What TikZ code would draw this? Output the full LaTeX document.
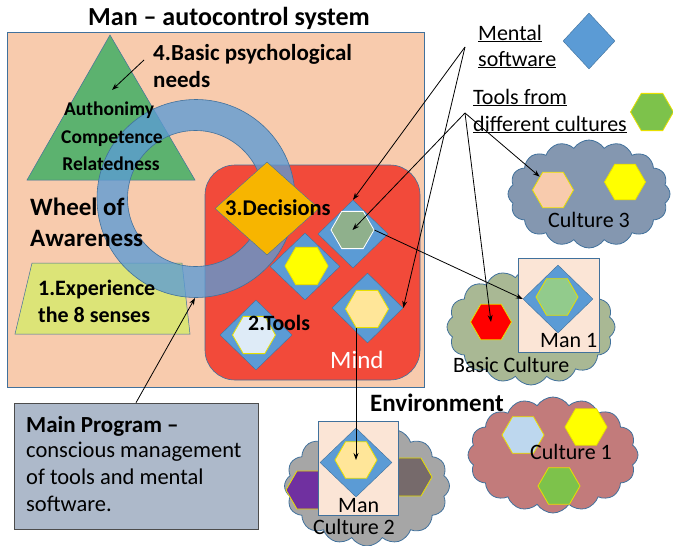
\documentclass[tikz,border=0pt]{standalone}
\usepackage{fontspec}
\setmainfont{Carlito}
\usetikzlibrary{shapes.geometric,shapes.symbols,arrows.meta}
\definecolor{peach}{HTML}{F8CBAD}
\definecolor{edgeblue}{HTML}{41719C}
\definecolor{trigreen}{HTML}{5CB26F}
\definecolor{ringblue}{HTML}{5B9BD5}
\definecolor{mindred}{HTML}{F24A3A}
\definecolor{decorange}{HTML}{F7B500}
\definecolor{swblue}{HTML}{5B9BD5}
\definecolor{hexgg}{HTML}{8FB08C}
\definecolor{hexyel}{HTML}{FFFF00}
\definecolor{hexlyel}{HTML}{FFE699}
\definecolor{hexlblue}{HTML}{DEEBF7}
\definecolor{hexlblueb}{HTML}{BDD7EE}
\definecolor{hexgreen}{HTML}{7DC24B}
\definecolor{hexlgreen}{HTML}{92CB8C}
\definecolor{hexpurple}{HTML}{7030A0}
\definecolor{hexdgray}{HTML}{766A6B}
\definecolor{yelborder}{HTML}{E8E000}
\definecolor{trapyel}{HTML}{DCE477}
\definecolor{mainboxc}{HTML}{ADB9CA}
\definecolor{cloudcthree}{HTML}{8497B0}
\definecolor{cloudbc}{HTML}{A9B894}
\definecolor{cloudcone}{HTML}{C27B7B}
\definecolor{cloudctwo}{HTML}{A6A6A6}
\definecolor{manboxc}{HTML}{FBE5D6}
\begin{document}
\begin{tikzpicture}[x=1pt,y=-1pt,
  txt/.style={font=\fontsize{22}{27}\selectfont, inner sep=0pt, anchor=base west},
  btxt/.style={font=\fontsize{#1}{27}\selectfont\bfseries, inner sep=0pt, anchor=base west},
  ctxt/.style={font=\fontsize{19.5}{22}\selectfont\bfseries, inner sep=0pt, anchor=base},
  hexa/.style={regular polygon, regular polygon sides=6, inner sep=0pt, minimum size=43pt, draw=yelborder, line width=0.8pt},
  swd/.style={diamond, inner sep=0pt, fill=swblue, draw=edgeblue, line width=0.4pt},
  cloudy/.style={cloud, cloud puffs=16, cloud puff arc=115, cloud ignores aspect, draw=edgeblue, line width=0.8pt, inner sep=0pt},
  boxy/.style={rectangle, inner sep=0pt, draw=edgeblue, line width=0.6pt},
  conn/.style={-{Stealth[length=7pt,width=5pt]}, line width=0.8pt}
]
\useasboundingbox (0,0) rectangle (673,546);
% ---------- man system ----------
\filldraw[fill=peach, draw=edgeblue, line width=0.6pt] (7,32) rectangle (424,387);
\node[font=\fontsize{26}{30}\selectfont\bfseries, inner sep=0pt, anchor=base] (title) at (229,25) {Man – autocontrol system};
\filldraw[fill=trigreen, draw=edgeblue, line width=0.5pt] (110,35) -- (195,180) -- (27,180) -- cycle;
\filldraw[fill=trapyel, draw=edgeblue, line width=0.5pt] (32,263) -- (182,263) -- (190,334) -- (15,334) -- cycle;
\node[boxy, fill=mindred, rounded corners=30pt, minimum width=215pt, minimum height=215pt] (mind) at (312.5,272.5) {};
% ring
\path[fill=ringblue, fill opacity=0.78, draw=edgeblue, line width=0.6pt, even odd rule]
  (196,198.5) circle[radius=99pt] (195.5,198.5) circle[radius=68pt];
\coordinate (ringbot) at (195,298);
% decisions
\node[diamond, inner sep=0pt, fill=decorange, draw=edgeblue, line width=0.4pt, minimum width=104pt, minimum height=93pt] (dec) at (267,208.5) {};
\node[btxt=22.5] (dectxt) at (225,215.5) {3.Decisions};
% mental software diamonds in mind
\node[swd, minimum width=70pt, minimum height=68pt] (dA) at (353,234) {};
\node[swd, minimum width=70pt, minimum height=67pt] (dB) at (305,266.5) {};
\node[swd, minimum width=71pt, minimum height=70pt] (dC) at (367.5,308) {};
\node[swd, minimum width=72pt, minimum height=70pt] (dD) at (256,335) {};
\node[hexa, fill=hexgg, draw=white] (hA) at (352.5,230) {};
\node[hexa, fill=hexyel] (hB) at (306.5,266) {};
\node[hexa, fill=hexlyel] (hC) at (367,309) {};
\node[hexa, fill=hexlblue] (hD) at (254,335) {};
\node[btxt=21.8] (tools) at (248,330) {2.Tools};
\node[txt, text=white, font=\fontsize{25}{30}\selectfont] (mindtxt) at (330,368) {Mind};
% left texts
\node[btxt=23] (needsa) at (153,60) {4.Basic psychological};
\node[btxt=23] (needsb) at (153,87) {needs};
\coordinate (needarrA) at (144,60);
\coordinate (needarrB) at (112,90);
\node[ctxt] (aut) at (109,115) {Authonimy};
\node[ctxt] (comp) at (112,143) {Competence};
\node[ctxt] (rel) at (111,170) {Relatedness};
\node[btxt=25] (wheela) at (30,215) {Wheel of};
\node[btxt=25] (wheelb) at (30,246) {Awareness};
\node[btxt=22] (expa) at (38,295) {1.Experience};
\node[btxt=22] (expb) at (38,322) {the 8 senses};
% main program
\node[rectangle, inner sep=0pt, fill=mainboxc, draw=black!70, line width=0.6pt, minimum width=244pt, minimum height=126pt] (mbox) at (136,466) {};
\node[btxt=23] (mpa) at (26,432) {Main Program –};
\node[txt, font=\fontsize{22.5}{27}\selectfont] (mpb) at (26,457) {conscious management};
\node[txt, font=\fontsize{22.5}{27}\selectfont] (mpc) at (26,484) {of tools and mental};
\node[txt, font=\fontsize{22.5}{27}\selectfont] (mpd) at (26,511) {software.};
% ---------- legends ----------
\node[txt] (mentala) at (478,40) {\underline{Mental}};
\node[txt] (mentalb) at (478,66) {\underline{software}};
\node[swd, minimum width=52pt, minimum height=56pt] (legd) at (589,41) {};
\node[txt] (toolsa) at (473,104) {\underline{Tools from}};
\node[txt] (toolsb) at (473,131) {\underline{different cultures}};
\node[hexa, fill=hexgreen] (legh) at (652,112) {};
\coordinate (M) at (465,47);
\coordinate (T) at (465,113);
% ---------- culture 3 ----------
\node[cloudy, fill=cloudcthree, minimum width=162pt, minimum height=108pt] (cthree) at (589,194) {};
\node[hexa, fill=peach, minimum size=41pt] (hP) at (553,190) {};
\node[hexa, fill=hexyel, minimum size=41pt] (hYc) at (625,182) {};
\node[txt] (cthreet) at (548,227) {Culture 3};
% ---------- basic culture + man 1 ----------
\node[cloudy, fill=cloudbc, minimum width=168pt, minimum height=116pt] (cbc) at (531,327) {};
\node[hexa, fill=red, minimum size=41pt] (hR) at (491,322) {};
\node[txt] (bct) at (453,372) {Basic Culture};
\node[boxy, fill=manboxc, minimum width=81pt, minimum height=94pt] (manone) at (558.5,305) {};
\node[swd, minimum width=70pt, minimum height=68pt] (dMone) at (558,299) {};
\node[hexa, fill=hexlgreen, minimum size=42pt] (hMone) at (557,297) {};
\node[txt] (manonet) at (540,347) {Man 1};
% ---------- environment ----------
\node[btxt=25] (env) at (370,411) {Environment};
% ---------- culture 1 ----------
\node[cloudy, fill=cloudcone, minimum width=170pt, minimum height=116pt] (cone) at (553,455) {};
\node[hexa, fill=hexlblueb, minimum size=42pt] (hLB) at (523,435) {};
\node[hexa, fill=hexyel, minimum size=42pt] (hYa) at (586,427) {};
\node[hexa, fill=hexgreen, minimum size=42pt] (hGa) at (559,486) {};
\node[txt] (conet) at (530,459) {Culture 1};
% ---------- man culture 2 ----------
\node[cloudy, fill=cloudctwo, minimum width=165pt, minimum height=120pt] (ctwo) at (367,486) {};
\node[hexa, fill=hexpurple, minimum size=44pt] (hPu) at (308,490) {};
\node[hexa, fill=hexdgray, minimum size=44pt] (hDG) at (410,477) {};
\node[boxy, fill=manboxc, minimum width=80pt, minimum height=94pt] (mantwo) at (358,468) {};
\node[swd, minimum width=72pt, minimum height=69pt] (dMtwo) at (356,462.5) {};
\node[hexa, fill=hexlyel, minimum size=42pt] (hMtwo) at (356,460) {};
\node[txt] (mantwot) at (338,512) {Man};
\node[txt] (ctwot) at (313,534) {Culture 2};
% ---------- connectors ----------
\draw[conn] (M) -- (dA.north);
\draw[conn] (M) -- (dC.east);
\draw[conn] (T) -- (hA.center);
\draw[conn] (T) -- (hP.north west);
\draw[conn] (T) -- (hR.center);
\draw[conn] (hA.east) -- (dMone.west);
\draw[conn] (hC.south -| hMtwo) -- (hMtwo.center);
\draw[conn] (mbox.north) -- (ringbot);
\draw[conn] (needarrA) -- (needarrB);
\end{tikzpicture}
\end{document}
